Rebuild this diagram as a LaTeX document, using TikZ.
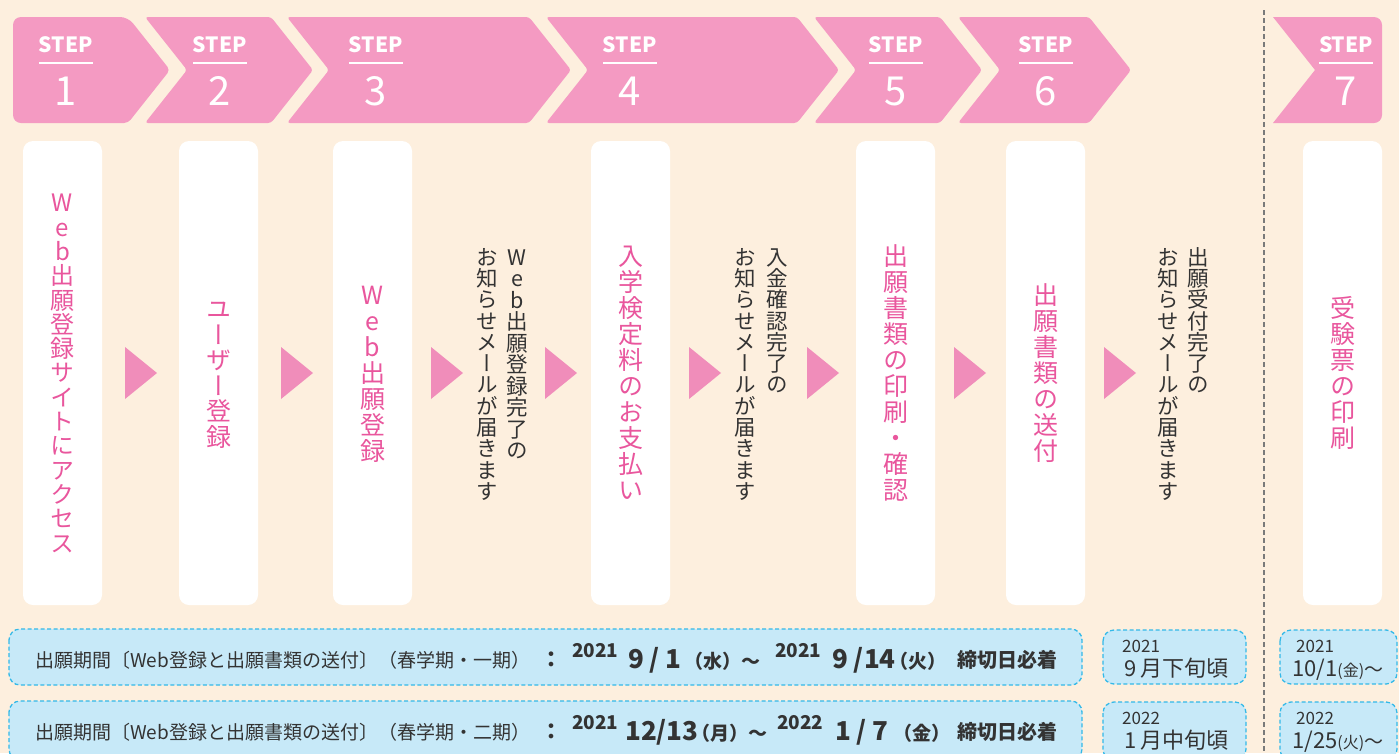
\documentclass[tikz,border=0pt]{standalone}
\usepackage{fontspec}
\setmainfont{Noto Sans CJK JP}
\newfontfamily\jpv[RawFeature=+vert]{Noto Sans CJK JP}
\definecolor{bgc}{HTML}{FDEFDE}
\definecolor{chevc}{HTML}{F49AC2}
\definecolor{tric}{HTML}{F08DBA}
\definecolor{pinkt}{HTML}{E9569D}
\definecolor{darkt}{HTML}{333333}
\definecolor{barfill}{HTML}{C7E9F8}
\definecolor{barline}{HTML}{33B9E8}
\definecolor{vlinec}{HTML}{7A7A7A}
\makeatletter
\newcommand\vstk[2]{\vtop{\offinterlineskip\@tfor\vs@c:=#2\do{\hbox to 1.3em{\hss\vrule width0pt height .88em depth \dimexpr #1-.88em\relax\vs@c\hss}}}}
\makeatother
\tikzset{
  chev/.style={fill=chevc},
  tri/.style={fill=tric},
  card/.style={fill=white, rounded corners=10pt, minimum width=79pt, minimum height=464pt, inner sep=0pt, text=pinkt, font=\jpv\fontsize{25}{26}\selectfont},
  mailtxt/.style={anchor=north, inner sep=0pt, text=darkt, font=\jpv\fontsize{21.5}{22}\selectfont},
  steplbl/.style={anchor=base, inner sep=0pt, text=white, font=\bfseries\fontsize{21}{24}\selectfont},
  stepnum/.style={anchor=base, inner sep=0pt, text=white, font=\fontsize{40}{44}\selectfont},
  stepline/.style={draw=white, line width=2pt},
  bar/.style={fill=barfill, draw=barline, dash pattern=on 4pt off 2.5pt, line width=1.3pt, rounded corners=11pt},
  bartxt/.style={anchor=base west, inner sep=0pt, text=darkt, font=\fontsize{19}{22}\selectfont},
  barcol/.style={anchor=base, inner sep=0pt, text=darkt, font=\bfseries\fontsize{22}{24}\selectfont},
  supy/.style={anchor=base west, inner sep=0pt, text=darkt, font=\bfseries\fontsize{19}{22}\selectfont},
  bigd/.style={anchor=base west, inner sep=0pt, text=darkt, font=\bfseries\fontsize{26}{28}\selectfont},
  midt/.style={anchor=base west, inner sep=0pt, text=darkt, font=\bfseries\fontsize{19}{22}\selectfont},
  endt/.style={anchor=base west, inner sep=0pt, text=darkt, font=\bfseries\fontsize{20}{22}\selectfont},
  smally/.style={anchor=base west, inner sep=0pt, text=darkt, font=\fontsize{17}{19}\selectfont},
  smalld/.style={anchor=base west, inner sep=0pt, text=darkt, font=\fontsize{22}{24}\selectfont},
  vdash/.style={draw=vlinec, line width=1.5pt, dash pattern=on 5pt off 3pt}
}
\begin{document}
\begin{tikzpicture}[x=1pt,y=-1pt]
\useasboundingbox (0,0) rectangle (1399,753);
\clip (0,0) rectangle (1399,753);
\fill[bgc] (0,0) rectangle (1399,753);

% chevrons
\fill[chev, rounded corners=8pt] (13,70) -- (13,17) -- (128,17) [rounded corners=4pt] -- (170,70) -- (128,123) [rounded corners=8pt] -- (13,123) -- cycle;
\fill[chev, rounded corners=3pt] (145,17) -- (271,17) -- (313,70) -- (271,123) -- (145,123) -- (187,70) -- cycle;
\fill[chev, rounded corners=3pt] (287,17) -- (529,17) -- (571,70) -- (529,123) -- (287,123) -- (329,70) -- cycle;
\fill[chev, rounded corners=3pt] (546,17) -- (797,17) -- (839,70) -- (797,123) -- (546,123) -- (588,70) -- cycle;
\fill[chev, rounded corners=3pt] (814,17) -- (940,17) -- (982,70) -- (940,123) -- (814,123) -- (856,70) -- cycle;
\fill[chev, rounded corners=3pt] (958,17) -- (1089,17) -- (1131,70) -- (1089,123) -- (958,123) -- (1000,70) -- cycle;
\fill[chev, rounded corners=8pt] (1315,70) [sharp corners] -- (1273,17) [rounded corners=8pt] -- (1382,17) -- (1382,123) [sharp corners] -- (1273,123) -- cycle;

% step labels
\foreach \i/\x in {1/66,2/220,3/376,4/630,5/896,6/1046,7/1346}{
  \node[steplbl] (st\i) at (\x,52) {STEP};
  \draw[stepline] (\x-27,63) -- (\x+27,63);
  \node[stepnum] (sn\i) at (\x,105) {\i};
}

% dashed separator
\coordinate (vt) at (1264,10);
\coordinate (vb) at (1264,753);
\draw[vdash] (vt) -- (vb);

% cards
\node[card] (c1) at (62.5,373) {\fontsize{24}{24}\selectfont\vstk{24.3pt}{Web出願登録サイトにアクセス}};
\node[card] (c2) at (218.5,373) {\vstk{25.5pt}{ユーザー登録}};
\node[card] (c3) at (372.5,373) {\vstk{26pt}{Web出願登録}};
\node[card] (c4) at (630.5,373) {\vstk{26pt}{入学検定料のお支払い}};
\node[card] (c5) at (895.5,373) {\vstk{26pt}{出願書類の印刷・確認}};
\node[card] (c6) at (1045.5,373) {\vstk{26pt}{出願書類の送付}};
\node[card] (c7) at (1342.5,373) {\vstk{26pt}{受験票の印刷}};

% mail notices
\node[mailtxt] (m1a) at (517,246) {\vstk{21.5pt}{Web出願登録完了の}};
\node[mailtxt] (m1b) at (487,246) {\vstk{21.3pt}{お知らせメールが届きます}};
\node[mailtxt] (m2a) at (777,246) {\vstk{21.3pt}{入金確認完了の}};
\node[mailtxt] (m2b) at (745,246) {\vstk{21.3pt}{お知らせメールが届きます}};
\node[mailtxt] (m3a) at (1198,246) {\vstk{21.3pt}{出願受付完了の}};
\node[mailtxt] (m3b) at (1168,246) {\vstk{21.3pt}{お知らせメールが届きます}};

% triangles
\foreach \x in {125,281,431,545,689,807,954,1104}{
  \fill[tri] (\x,347) -- (\x+32,373) -- (\x,399) -- cycle;
}

% bars
\draw[bar] (9,629) rectangle (1082,685);
\draw[bar] (9,701) rectangle (1082,760);
\draw[bar] (1103,630) rectangle (1246,684);
\draw[bar] (1103,702) rectangle (1246,760);
\draw[bar] (1280,630) rectangle (1397,684);
\draw[bar] (1280,702) rectangle (1397,760);

% row 1
\node[bartxt] (r1a) at (35,667) {出願期間〔Web登録と出願書類の送付〕（春学期・一期）};
\node[barcol] (r1c) at (551,667) {：};
\node[supy] (r1y1) at (572,657) {2021};
\node[bigd] (r1d1) at (628,668) {9 / 1};
\node[midt] (r1w1) at (684,668) {（水）〜};
\node[supy] (r1y2) at (775,657) {2021};
\node[bigd] (r1d2) at (832,668) {9 /14};
\node[midt] (r1w2) at (889,668) {（火）};
\node[endt] (r1e) at (957,667) {締切日必着};

% row 2
\node[bartxt] (r2a) at (35,739) {出願期間〔Web登録と出願書類の送付〕（春学期・二期）};
\node[barcol] (r2c) at (551,739) {：};
\node[supy] (r2y1) at (572,729) {2021};
\node[bigd] (r2d1) at (625,740) {12/13};
\node[midt] (r2w1) at (691,740) {（月）〜};
\node[supy] (r2y2) at (777,729) {2022};
\node[bigd] (r2d2) at (835,740) {1 / 7};
\node[midt] (r2w2) at (893,740) {（金）};
\node[endt] (r2e) at (957,739) {締切日必着};

% small boxes
\node[smally] (a1y) at (1122,652) {2021};
\node[smalld] (a1d) at (1124,676) {9\hspace{4pt}月下旬頃};
\node[smally] (a2y) at (1122,724) {2022};
\node[smalld] (a2d) at (1124,748) {1\hspace{4pt}月中旬頃};
\node[smally] (b1y) at (1296,652) {2021};
\node[smalld] (b1d) at (1292,676) {10/1{\fontsize{16}{18}\selectfont(金)}{\fontsize{19}{21}\selectfont〜}};
\node[smally] (b2y) at (1296,724) {2022};
\node[smalld] (b2d) at (1292,748) {1/25{\fontsize{16}{18}\selectfont(火)}{\fontsize{19}{21}\selectfont〜}};
\end{tikzpicture}
\end{document}
